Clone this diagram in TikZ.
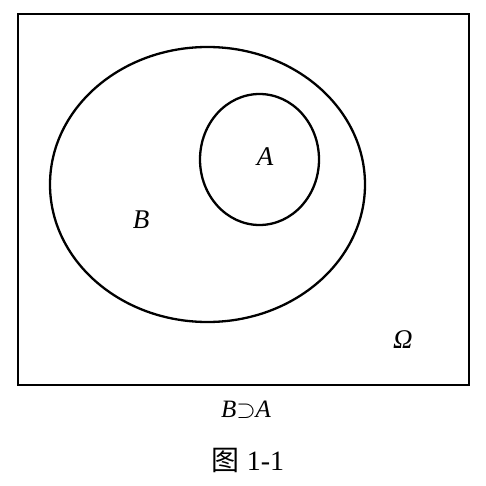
\documentclass[tikz,border=0pt]{standalone}
\usepackage{fontspec}
\setmainfont{Liberation Serif}
\newfontfamily\cjk{Noto Sans CJK SC}
\usetikzlibrary{shapes.geometric}

\begin{document}
\begin{tikzpicture}[
  x=1pt,y=-1pt,
  setline/.style={draw=black,line width=2.3pt},
  universe/.style={setline,rectangle,inner sep=0pt,minimum width=451pt,minimum height=371pt},
  setshape/.style={setline,ellipse,inner sep=0pt},
  setlabel/.style={font=\fontsize{27}{32}\selectfont\itshape,inner sep=0pt}
]
\useasboundingbox (0,0) rectangle (485,486);
% universe and the two sets, B containing A
\node[universe] (omega) at (243.5,199.5) {};
\node[setshape,minimum width=315pt,minimum height=275pt] (setB) at (207.5,184.5) {};
\node[setshape,minimum width=119pt,minimum height=131pt] (setA) at (259.5,159.5) {};
\node[setlabel] (labA) at (265,157) {A};
\node[setlabel] (labB) at (141,220) {B};
\node[setlabel] (labO) at (403,340) {Ω};
% caption
\node[font=\fontsize{25}{30}\selectfont,inner sep=0pt] (rel) at (246,410) {\textit{B}$\supset$\textit{A}};
\node[font=\fontsize{28}{33}\selectfont,inner sep=0pt] (fig) at (248,460) {{\cjk 图} 1-1};
\end{tikzpicture}
\end{document}
